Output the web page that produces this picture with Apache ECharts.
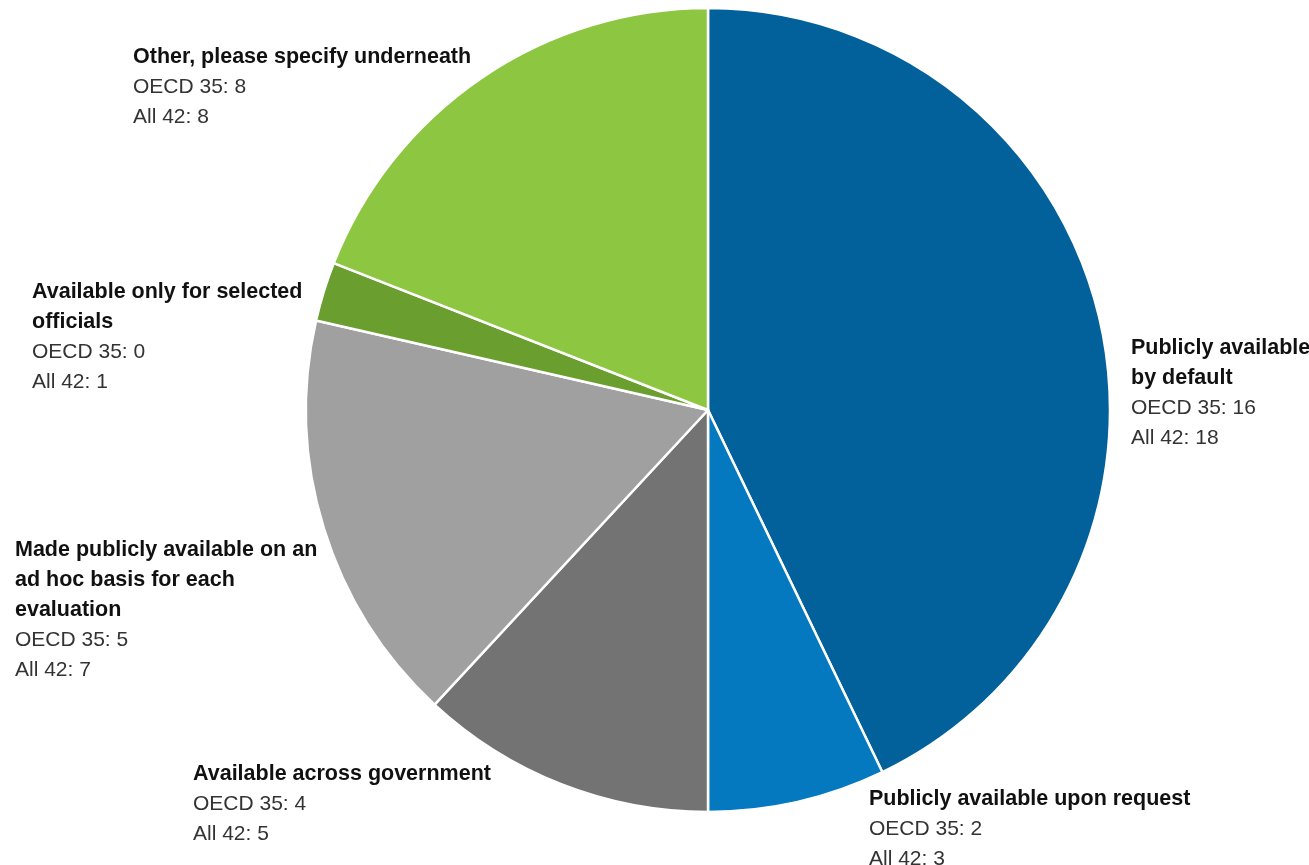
<!DOCTYPE html>
<html>
<head>
<meta charset="utf-8">
<script src="https://cdn.jsdelivr.net/npm/echarts@6/dist/echarts.min.js"></script>
<style>
  html, body { margin: 0; padding: 0; background: #ffffff; }
  #chart { width: 1309px; height: 865px; }
</style>
</head>
<body>
<div id="chart"></div>
<script>
// Categories in clockwise order from 12 o'clock
const categories = [
  'Publicly available\nby default',
  'Publicly available upon request',
  'Available across government',
  'Made publicly available on an\nad hoc basis for each\nevaluation',
  'Available only for selected\nofficials',
  'Other, please specify underneath'
];
const oecd35 = [16, 2, 4, 5, 0, 8];
const all42 = [18, 3, 5, 7, 1, 8];
const sliceColors = ['#02609A', '#0479BF', '#737373', '#A0A0A0', '#6A9E2F', '#8DC640'];

// Top-left anchor of each label block
const labelAnchors = [
  [1131, 333],
  [869, 784],
  [193, 759],
  [15, 535],
  [32, 277],
  [133, 42]
];

const chart = echarts.init(document.getElementById('chart'), null, { renderer: 'canvas' });

const data = categories.map((name, i) => ({
  name: name,
  value: all42[i],
  itemStyle: { color: sliceColors[i] }
}));

const FONT = 'Liberation Sans, Arial, sans-serif';

chart.setOption({
  backgroundColor: '#ffffff',
  animation: false,
  series: [{
    type: 'pie',
    center: [708, 410],
    radius: [0, 402],
    startAngle: 90,
    clockwise: true,
    data: data,
    itemStyle: { borderColor: '#ffffff', borderWidth: 2.5 },
    labelLine: { show: false },
    label: {
      show: true,
      position: 'outside',
      overflow: 'none',
      fontFamily: FONT,
      formatter: function (p) {
        const i = p.dataIndex;
        const title = categories[i].split('\n').map(l => '{b|' + l + '}').join('\n');
        return title + '\n{v|OECD 35: ' + oecd35[i] + '}\n{v|All 42: ' + all42[i] + '}';
      },
      rich: {
        b: { fontFamily: FONT, fontWeight: 'bold', fontSize: 21.5, lineHeight: 30, color: '#111111', align: 'left' },
        v: { fontFamily: FONT, fontSize: 21, lineHeight: 30, color: '#333333', align: 'left' }
      }
    },
    labelLayout: function (params) {
      const a = labelAnchors[params.dataIndex];
      return { x: a[0], y: a[1], align: 'left', verticalAlign: 'top', hideOverlap: false, moveOverlap: false };
    }
  }]
});
</script>
</body>
</html>
